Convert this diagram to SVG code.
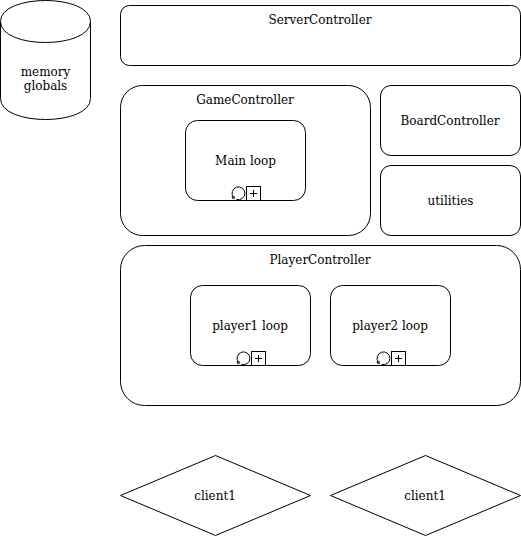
<svg xmlns="http://www.w3.org/2000/svg" width="521" height="536" viewBox="0 0 521 536">
<style>
.s{fill:#fff;stroke:#000;stroke-width:1}
.i{fill:none;stroke:#000;stroke-width:1}
text{font-family:"DejaVu Serif","Liberation Serif",serif;font-size:12px;fill:#000;text-anchor:middle}
</style>
<defs>
<g id="loop">
<path class="i" d="M3.4 11.2 A6.4 6.4 0 1 1 6.5 13.4"/>
<path d="M1.4 10.2 L5 10.2 L4.6 13.2 L2.2 13Z" fill="#000" opacity=".7"/>
</g>
</defs>
<rect width="521" height="536" fill="#fff"/>
<g id="connectors"></g>
<g id="memory">
<path class="s" d="M0.5 21.5 C0.5 -6.5 90.5 -6.5 90.5 21.5 V98.5 C90.5 126.5 0.5 126.5 0.5 98.5Z"/>
<path class="i" d="M0.5 21.5 C0.5 49.5 90.5 49.5 90.5 21.5"/>
<text x="45.5" y="76">memory</text><text x="45.5" y="90">globals</text>
</g>
<g id="server"><rect class="s" x="120.5" y="5.5" width="400" height="60" rx="9" ry="9"/><text x="320" y="24">ServerController</text></g>
<g id="game"><rect class="s" x="120.5" y="85.5" width="250" height="150" rx="22" ry="22"/><text x="245" y="104">GameController</text></g>
<g id="mainloop"><rect class="s" x="185.5" y="120.5" width="120" height="80" rx="12" ry="12"/><text x="245.5" y="165">Main loop</text>
<use href="#loop" x="230" y="186"/><rect class="s" x="246.5" y="186.5" width="14" height="14"/><path class="i" d="M250 193.5h7M253.5 190v7"/></g>
<g id="board"><rect class="s" x="380.5" y="85.5" width="140" height="70" rx="10.5" ry="10.5"/><text x="450" y="125">BoardController</text></g>
<g id="utilities"><rect class="s" x="380.5" y="165.5" width="140" height="70" rx="10.5" ry="10.5"/><text x="450.5" y="205">utilities</text></g>
<g id="player"><rect class="s" x="120.5" y="245.5" width="400" height="160" rx="24" ry="24"/><text x="320" y="264">PlayerController</text></g>
<g id="player1"><rect class="s" x="190.5" y="285.5" width="120" height="80" rx="12" ry="12"/><text x="250" y="330">player1 loop</text>
<use href="#loop" x="235" y="351"/><rect class="s" x="251.5" y="351.5" width="14" height="14"/><path class="i" d="M255 358.5h7M258.5 355v7"/></g>
<g id="player2"><rect class="s" x="330.5" y="285.5" width="120" height="80" rx="12" ry="12"/><text x="390" y="330">player2 loop</text>
<use href="#loop" x="375" y="351"/><rect class="s" x="391.5" y="351.5" width="14" height="14"/><path class="i" d="M395 358.5h7M398.5 355v7"/></g>
<g id="client1"><path class="s" d="M215.5 455.5 L310.5 495.5 L215.5 535.5 L120.5 495.5Z"/><text x="215" y="500">client1</text></g>
<g id="client2"><path class="s" d="M425.5 455.5 L520.5 495.5 L425.5 535.5 L330.5 495.5Z"/><text x="425" y="500">client1</text></g>
</svg>
